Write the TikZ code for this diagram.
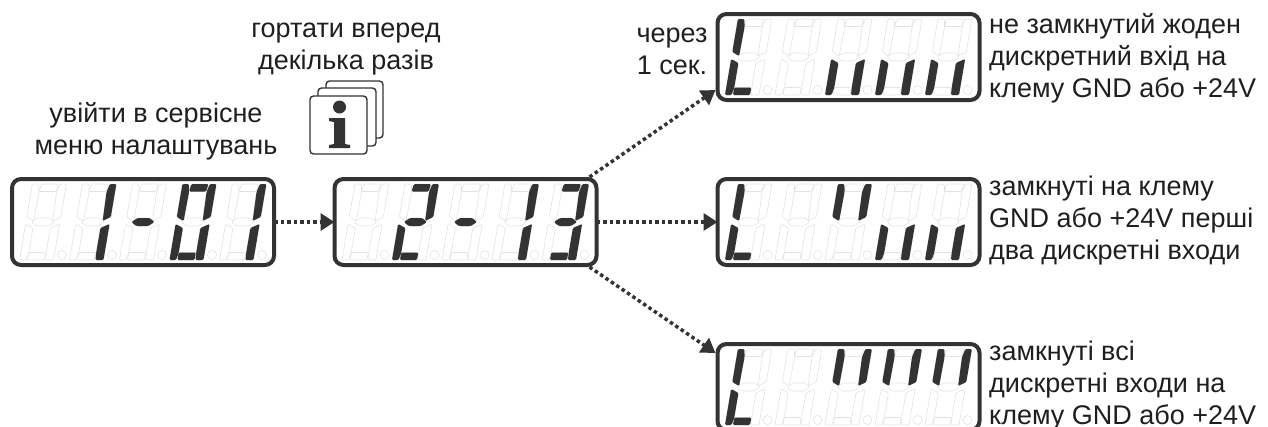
\documentclass[tikz,border=0pt]{standalone}
\usepackage{fontspec}
\setmainfont{Liberation Sans}
\usetikzlibrary{arrows.meta}
\definecolor{ink}{HTML}{333333}
\definecolor{ghost}{HTML}{E2E2E2}
\tikzset{
  dispbox/.style={draw=ink,line width=4pt,rounded corners=9pt,minimum width=262pt,minimum height=86pt,inner sep=0pt,outer sep=0pt},
  lit/.style={fill=ink,draw=none,rounded corners=1.2pt},
  off/.style={draw=ghost,line width=.6pt,rounded corners=1.2pt},
  link/.style={draw=ink,line width=3.5pt,dash pattern=on 3.5pt off 3pt,-{Triangle[length=14pt,width=17pt,fill=ink]}},
  lab/.style={font=\fontsize{27}{32}\selectfont,text=black!88,inner sep=0pt,align=left,anchor=north west},
  labc/.style={font=\fontsize{27}{32}\selectfont,text=black!88,inner sep=0pt,align=center},
  card/.style={draw=ink,line width=1.4pt,fill=white,rounded corners=3.5pt}
}
\def\sega#1{\path[#1] (9,0) -- (26,0) -- (25,7.5) -- (8,7.5) -- cycle;}
\def\segb#1{\path[#1] (27.5,0) -- (34,0) -- (34,33) -- (26.5,37) -- (25.5,8) -- cycle;}
\def\segc#1{\path[#1] (34,40) -- (34,76) -- (26,76) -- (25.5,69) -- (25.5,44) -- cycle;}
\def\segd#1{\path[#1] (8,68.5) -- (25,68.5) -- (25,76) -- (8,76) -- cycle;}
\def\sege#1{\path[#1] (0,40) -- (0,76) -- (6.5,76) -- (8,69) -- (8,44) -- cycle;}
\def\segf#1{\path[#1] (6.5,0) -- (0,0) -- (0,33) -- (7.5,37) -- (8,8) -- cycle;}
\def\segg#1{\path[#1] (5.5,38) -- (11,34) -- (23,34) -- (28.5,38) -- (23,42) -- (11,42) -- cycle;}
% \dig{node}{position 0-4}{lit segments}
\newcommand{\dig}[3]{%
  \begin{scope}[shift={(#1.north west)},shift={({20.4+50*#2},5)},xslant=.17]
    \foreach \s in {a,b,c,d,e,f,g}{\csname seg\s\endcsname{off}}
    \foreach \s in {#3}{\csname seg\s\endcsname{lit}}
  \end{scope}
  \begin{scope}[shift={(#1.north west)}]
    \draw[ghost,line width=.6pt] ({50+50*#2},76) circle (4.5);
  \end{scope}}
\begin{document}
\begin{tikzpicture}[x=1pt,y=-1pt]
\useasboundingbox (0,0) rectangle (1268,426);
\clip (0,0) rectangle (1268,426);
\node[dispbox] (d1) at (143,222) {};
\node[dispbox] (d2) at (465.5,222) {};
\node[dispbox] (d3) at (848.5,57) {};
\node[dispbox] (d4) at (848.5,222) {};
\node[dispbox] (d5) at (848.5,387) {};
% display 1: 1-01
\dig{d1}{0}{}
\dig{d1}{1}{b,c}
\dig{d1}{2}{g}
\dig{d1}{3}{a,b,c,d,e,f}
\dig{d1}{4}{b,c}
% display 2: 2-13
\dig{d2}{0}{}
\dig{d2}{1}{a,b,g,e,d}
\dig{d2}{2}{g}
\dig{d2}{3}{b,c}
\dig{d2}{4}{a,b,g,c,d}
% display 3
\dig{d3}{0}{f,e,d}
\dig{d3}{1}{}
\dig{d3}{2}{e,c}
\dig{d3}{3}{e,c}
\dig{d3}{4}{e,c}
% display 4
\dig{d4}{0}{f,e,d}
\dig{d4}{1}{}
\dig{d4}{2}{f,b}
\dig{d4}{3}{e,c}
\dig{d4}{4}{e,c}
% display 5
\dig{d5}{0}{f,e,d}
\dig{d5}{1}{}
\dig{d5}{2}{f,b}
\dig{d5}{3}{f,b}
\dig{d5}{4}{f,b}
% connectors
\draw[link] (d1.east) -- (d2.west);
\draw[link] (d2.east) -- (d4.west);
\draw[link] ([xshift=-7pt,yshift=2pt]d2.north east) -- ([xshift=-2pt,yshift=10pt]d3.south west);
\draw[link] ([xshift=-7pt,yshift=-2pt]d2.south east) -- ([xshift=-2pt,yshift=-9pt]d5.north west);
% info cards
\draw[card] (326,81) rectangle (383,138);
\draw[card] (318,88) rectangle (376,146);
\draw[card] (310,96) rectangle (367,154);
\fill[ink] (339.5,107) circle (6.5);
\fill[ink] (329,118) -- (345,118) -- (345,144) -- (350,145) -- (350,148) -- (329,148) -- (329,145) -- (334,144) -- (334,122) -- (329,121) -- cycle;
% labels
\node[labc] (t1) at (346,49) {гортати вперед\\декілька разів};
\node[labc] (t2) at (156,131.5) {увійти в сервісне\\меню налаштувань};
\node[labc] (t3) at (672,51) {через\\1 сек.};
\node[lab] (t4) at (989,13) {не замкнутий жоден\\дискретний вхід на\\клему GND або +24V};
\node[lab] (t5) at (989,176) {замкнуті на клему\\GND або +24V перші\\два дискретні входи};
\node[lab] (t6) at (989,341) {замкнуті всі\\дискретні входи на\\клему GND або +24V};
\end{tikzpicture}
\end{document}
